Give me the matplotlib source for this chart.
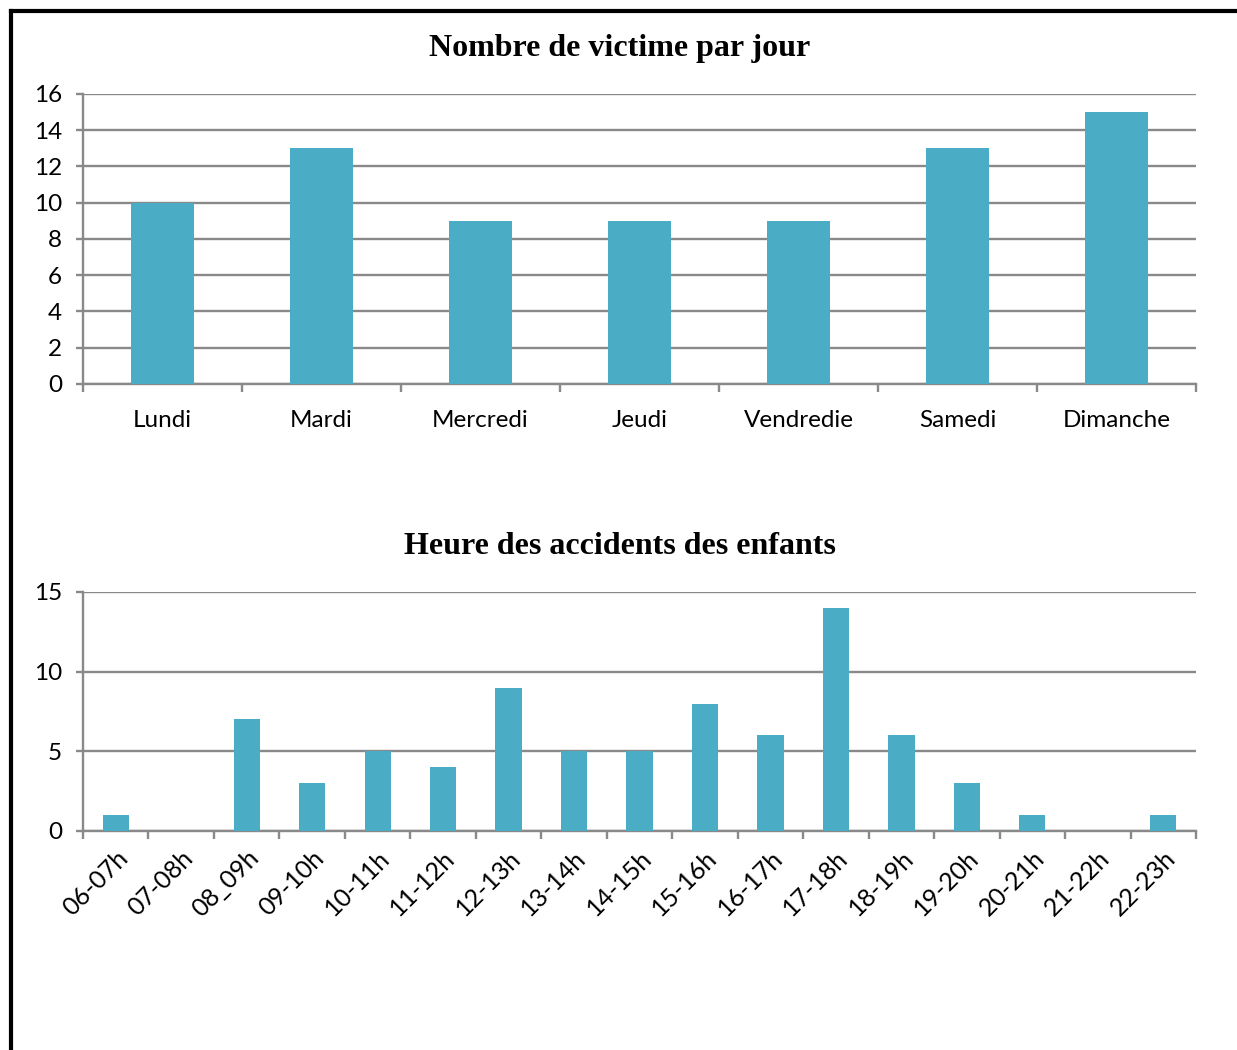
import numpy as np
import matplotlib
matplotlib.use('Agg')
import matplotlib.pyplot as plt
from matplotlib.ticker import FixedLocator

jours = ['Lundi', 'Mardi', 'Mercredi', 'Jeudi', 'Vendredie', 'Samedi', 'Dimanche']
victimes = [10, 13, 9, 9, 9, 13, 15]

heures = ['06-07h', '07-08h', '08_09h', '09-10h', '10-11h', '11-12h', '12-13h',
          '13-14h', '14-15h', '15-16h', '16-17h', '17-18h', '18-19h', '19-20h',
          '20-21h', '21-22h', '22-23h']
accidents = [1, 0, 7, 3, 5, 4, 9, 5, 5, 8, 6, 14, 6, 3, 1, 0, 1]

bar_color = '#4BACC6'
line_color = '#898989'
tick_font = 'Lato'
tick_size = 17.5
title_font = {'family': 'Liberation Serif', 'weight': 'bold', 'size': 23}

fig = plt.figure(figsize=(12.37, 10.5), dpi=100)

# frame lines on top and left
fig.add_artist(plt.Line2D([0.0087, 1.0], [0.9895, 0.9895], color='black', lw=3,
                          transform=fig.transFigure))
fig.add_artist(plt.Line2D([0.0087, 0.0087], [0.0, 0.9895], color='black', lw=3,
                          transform=fig.transFigure))


def style_axes(ax, labels, values, ymax, ystep):
    n = len(labels)
    x = np.arange(n)
    ax.bar(x, values, width=0.4, color=bar_color, zorder=3)
    ax.set_xlim(-0.5, n - 0.5)
    ax.set_ylim(0, ymax)
    ax.set_yticks(np.arange(0, ymax + 1, ystep))
    ax.yaxis.grid(True, color=line_color, lw=1.7, zorder=0)
    for side in ['top', 'right']:
        ax.spines[side].set_visible(False)
    for side in ['left', 'bottom']:
        ax.spines[side].set_color(line_color)
        ax.spines[side].set_linewidth(1.7)
    ax.set_xticks(x)
    ax.xaxis.set_minor_locator(FixedLocator(np.arange(n + 1) - 0.5))
    ax.tick_params(axis='x', which='major', length=0)
    ax.tick_params(axis='x', which='minor', length=6, width=1.7, color=line_color)
    ax.tick_params(axis='y', length=5, width=1.7, color=line_color, pad=10,
                   labelsize=tick_size)
    for lab in ax.get_yticklabels():
        lab.set_family(tick_font)
    return x


ax1 = fig.add_axes([0.0671, 0.6343, 0.8998, 0.2762])
style_axes(ax1, jours, victimes, 16, 2)
ax1.set_xticklabels(jours, family=tick_font, fontsize=tick_size)
ax1.tick_params(axis='x', which='major', pad=19)
ax1.set_title('Nombre de victime par jour', fontdict=title_font, pad=27,
              x=0.482)

ax2 = fig.add_axes([0.0671, 0.2086, 0.8998, 0.2276])
style_axes(ax2, heures, accidents, 15, 5)
ax2.set_xticklabels(heures, family=tick_font, fontsize=18, rotation=45,
                    ha='right', rotation_mode='anchor')
ax2.tick_params(axis='x', which='major', pad=11)
ax2.set_title('Heure des accidents des enfants', fontdict=title_font, pad=27,
              x=0.482)

fig.savefig('out.png', dpi=100)
plt.close(fig)
